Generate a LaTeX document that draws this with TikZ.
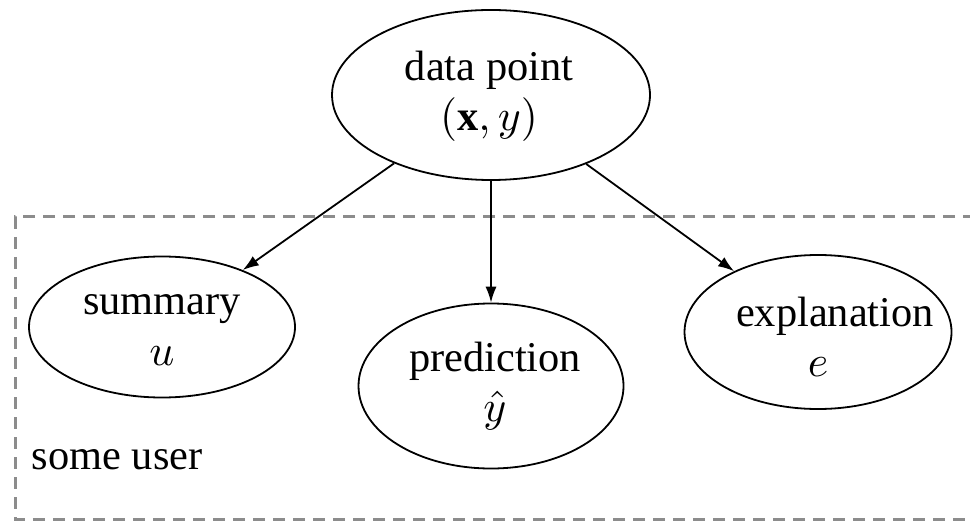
\documentclass[tikz,border=0pt]{standalone}
\usepackage{amsmath,amssymb}
\usepackage{fontspec}
\setmainfont{Liberation Serif}
\usetikzlibrary{arrows.meta,positioning,shapes.geometric}
\tikzset{
  >={Latex[length=4pt,width=2.8pt]},
  oval/.style ={draw, ellipse, inner sep=0pt, line width=0.45pt},
  txt/.style  ={align=center, inner sep=0pt, font=\fontsize{10.6}{12.6}\selectfont},
  user/.style ={draw=gray!90, line width=0.75pt, dash pattern=on 3pt off 2pt},
  flow/.style ={->, line width=0.45pt}
}

\begin{document}
\begin{tikzpicture}[x=0.25pt, y=-0.25pt]
\useasboundingbox (0,0) rectangle (970,522);
% box of the user, open at the right
\coordinate (ut) at (975,217);
\coordinate (ub) at (975,519);
\draw[user] (ut) -- (15,217) -- (15,519) -- (ub);
\node[txt, anchor=west] (user) at (31,460) {some\ user};

% ellipses
\node[oval, minimum width=79.5pt, minimum height=42.5pt] (data) at (491,95) {};
\node[oval, minimum width=66.5pt, minimum height=35.25pt] (sum) at (162,327) {};
\node[oval, minimum width=66.25pt, minimum height=41.25pt] (pred) at (491,386) {};
\node[oval, minimum width=66.75pt, minimum height=38.5pt] (expl) at (818,332) {};

% texts
\node[txt] (datat) at (489,96) {data point\\$(\mathbf{x},y)$};
\node[txt] (sumt) at (162,330) {summary\\$u$};
\node[txt] (predt) at (495,386) {prediction\\$\hat{y}$};
\node[txt] (explt) at (835,337) {explanation\\$e$\hspace*{8.5pt}};

% arrows
\draw[flow] (data) -- (sum);
\draw[flow] (data) -- (pred);
\draw[flow] (data) -- (expl);
\end{tikzpicture}
\end{document}
